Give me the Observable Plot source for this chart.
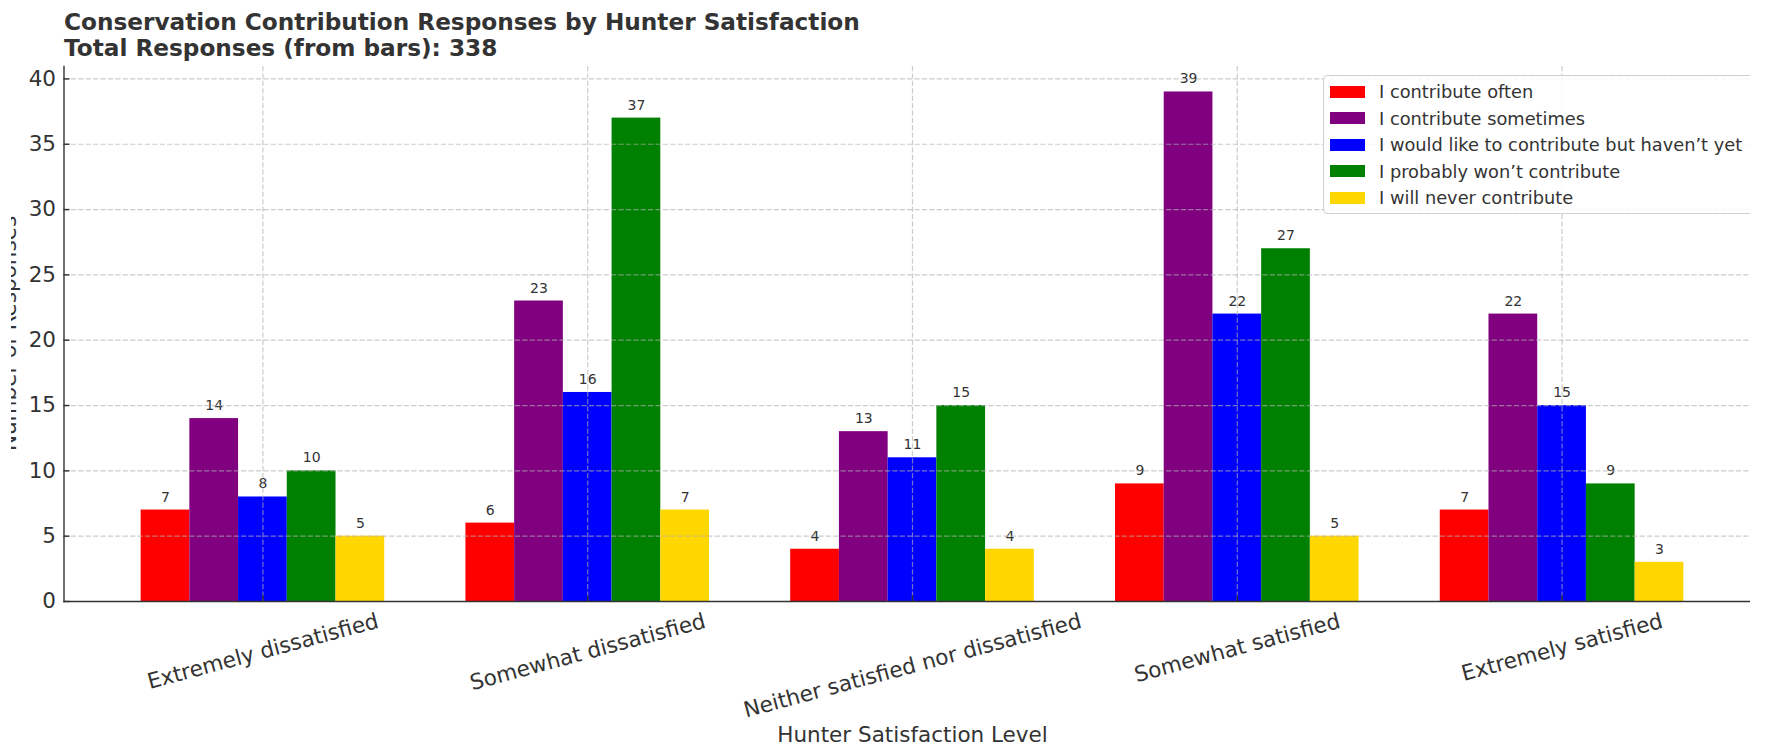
<!DOCTYPE html>
<html>
<head>
<meta charset="utf-8">
<script src="https://cdn.jsdelivr.net/npm/d3@7"></script>
<script src="https://cdn.jsdelivr.net/npm/@observablehq/plot@0.6"></script>
<style>
  html, body { margin: 0; padding: 0; background: #fff; }
  #wrap { position: relative; width: 1768px; height: 747px; overflow: hidden; font-family: "DejaVu Sans", sans-serif; color: #333; }
  #wrap svg { position: absolute; left: 0; top: 0; max-width: none; }
  .title { position: absolute; left: 64px; font-weight: bold; font-size: 23.2px; line-height: 26px; white-space: nowrap; color: #333; }
  #legend { position: absolute; left: 1323px; top: 75px; width: 440px; height: 139px; border: 1px solid #d0d0d0; border-radius: 4px; background: rgba(255,255,255,0.85); box-sizing: border-box; }
  .lrow { position: absolute; left: 0; height: 26px; display: flex; align-items: center; white-space: nowrap; font-size: 17.8px; color: #333; }
  .sw { width: 35px; height: 12px; margin-left: 6px; margin-right: 14px; }
  #ylab { position: absolute; left: 11px; top: 0; width: 30px; height: 747px; overflow: hidden; }
  #cover { position: absolute; left: 1750px; top: 0; width: 18px; height: 747px; background: #fff; }
</style>
</head>
<body>
<div id="wrap"></div>
<script>
// ---- data ----
const categories = ["Extremely dissatisfied", "Somewhat dissatisfied", "Neither satisfied nor dissatisfied", "Somewhat satisfied", "Extremely satisfied"];
const seriesNames = ["I contribute often", "I contribute sometimes", "I would like to contribute but haven\u2019t yet", "I probably won\u2019t contribute", "I will never contribute"];
const seriesColors = ["#ff0000", "#800080", "#0000ff", "#008000", "#ffd700"];
const contributeOften = [7, 6, 4, 9, 7];
const contributeSometimes = [14, 23, 13, 39, 22];
const wouldLikeTo = [8, 16, 11, 22, 15];
const probablyWont = [10, 37, 15, 27, 9];
const willNever = [5, 7, 4, 5, 3];
const yTicks = [0, 5, 10, 15, 20, 25, 30, 35, 40];
const titleText = "Conservation Contribution Responses by Hunter Satisfaction";
const xLabel = "Hunter Satisfaction Level";
const yLabel = "Number of Responses";

const seriesValues = [contributeOften, contributeSometimes, wouldLikeTo, probablyWont, willNever];
const rows = [];
categories.forEach((c, i) => seriesNames.forEach((s, j) => rows.push({cat: c, series: s, value: seriesValues[j][i]})));
const total = d3.sum(rows, d => d.value);
const subtitleText = `Total Responses (from bars): ${total}`;

// ---- layout ----
const W = 1768, H = 747;
const margins = {marginLeft: 63.5, marginRight: 7.5, marginTop: 66, marginBottom: 146};
const yMax = d3.max(rows, d => d.value) * 1.05;
const bandOpts = {paddingInner: 0.25, paddingOuter: 0.2375, round: false};
const font = {fontFamily: "DejaVu Sans", fontSize: "21.5px", color: "#333", background: "none"};
const gridStyle = {stroke: "#b0b0b0", strokeOpacity: 0.65, strokeWidth: 1.2, strokeDasharray: "5.2,2.2"};
const tickFont = 21.6;

const wrap = document.getElementById("wrap");

// bars plot (faceted by satisfaction level)
const bars = Plot.plot({
  width: W, height: H, ...margins,
  style: font,
  facet: {data: rows, x: "cat"},
  fx: {domain: categories, ...bandOpts, axis: null, label: null},
  x: {domain: seriesNames, padding: 0, round: false, axis: null},
  y: {domain: [0, yMax], axis: null},
  color: {domain: seriesNames, range: seriesColors},
  marks: [
    Plot.barY(rows, {x: "series", y: "value", fill: "series", inset: 0}),
    Plot.text(rows, {x: "series", y: "value", text: d => String(d.value), lineAnchor: "bottom", dy: -8.5, fontSize: 14, fill: "#333"})
  ]
});
wrap.appendChild(bars);

// axes / grid overlay
const axes = Plot.plot({
  width: W, height: H, ...margins,
  style: font,
  x: {type: "band", domain: categories, ...bandOpts, axis: null},
  y: {domain: [0, yMax], axis: null},
  marks: [
    Plot.gridY(yTicks, gridStyle),
    Plot.gridX(categories, gridStyle),
    Plot.ruleY([0], {stroke: "#333", strokeWidth: 1.4}),
    Plot.frame({anchor: "left", stroke: "#333", strokeWidth: 1.4}),
    Plot.axisY(yTicks, {tickSize: 6, dx: 6, text: null, label: null, stroke: "#333", strokeWidth: 1.4}),
    Plot.axisY(yTicks, {tickSize: 0, tickPadding: 8, label: null, fontSize: 21.5, fill: "#333"}),
    Plot.axisX(categories, {tickSize: 6, dy: -6, text: null, label: null, stroke: "#333", strokeWidth: 1.4}),
    Plot.text(categories, {x: d => d, frameAnchor: "bottom", rotate: -15, lineAnchor: "middle", textAnchor: "middle", fontSize: tickFont, fill: "#333"}),
    Plot.text([xLabel], {frameAnchor: "bottom", dy: 140.5, lineAnchor: "bottom", fontSize: 21.5, fill: "#333"})
  ]
});
wrap.appendChild(axes);

// emulate matplotlib rotated-label alignment (bbox centred on tick, top just below axis)
const rad = 15 * Math.PI / 180;
axes.querySelectorAll('g[aria-label="text"]').forEach((g, gi) => {
  if (gi !== 0) return;
  g.querySelectorAll("text").forEach(t => {
    const w = t.getComputedTextLength();
    const h = tickFont * 1.164;
    const off = 7 + (w * Math.sin(rad) + h * Math.cos(rad)) / 2;
    t.setAttribute("transform", `translate(0,${off}) ` + (t.getAttribute("transform") || ""));
  });
});

// titles
const t1 = document.createElement("div");
t1.className = "title"; t1.style.top = "9px"; t1.textContent = titleText;
const t2 = document.createElement("div");
t2.className = "title"; t2.style.top = "35px"; t2.textContent = subtitleText;
wrap.appendChild(t1); wrap.appendChild(t2);

// y label (clipped at left as in reference)
const yl = document.createElement("div");
yl.id = "ylab";
yl.innerHTML = `<svg width="30" height="747" style="position:absolute;left:0;top:0"><text transform="translate(5,333.5) rotate(-90)" text-anchor="middle" font-family="DejaVu Sans" font-size="21.5" fill="#333">${yLabel}</text></svg>`;
wrap.appendChild(yl);

// legend
const lg = document.createElement("div");
lg.id = "legend";
seriesNames.forEach((s, i) => {
  const r = document.createElement("div");
  r.className = "lrow";
  r.style.top = (2.7 + i * 26.5) + "px";
  r.innerHTML = `<span class="sw" style="background:${seriesColors[i]}"></span><span>${s}</span>`;
  lg.appendChild(r);
});
wrap.appendChild(lg);

const cv = document.createElement("div");
cv.id = "cover";
wrap.appendChild(cv);
</script>
</body>
</html>
